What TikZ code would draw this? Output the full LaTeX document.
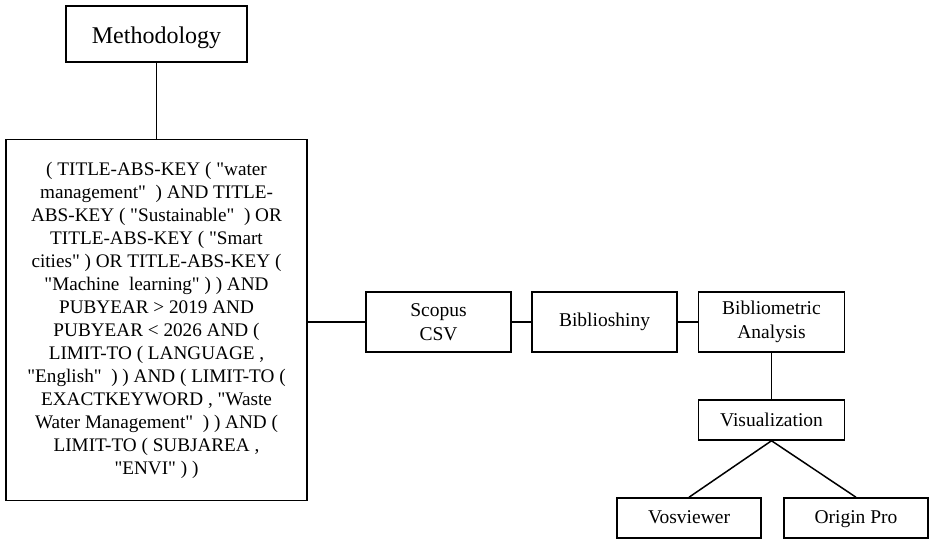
\documentclass[tikz,border=0pt]{standalone}
\usepackage{fontspec}
\setmainfont{Liberation Serif}[Ligatures=TeXOff]
\begin{document}
\begin{tikzpicture}[x=1pt,y=-1pt,
  box/.style={draw=black,line width=1.5pt,fill=white,align=center,inner sep=0pt,font=\fontsize{19.5}{24.5}\selectfont},
  link/.style={draw=black,line width=1.5pt}]
\useasboundingbox (0,0) rectangle (933,540);
\node[box,minimum width=181pt,minimum height=56pt,text height=22pt,text depth=2pt,font=\fontsize{24}{28}\selectfont] (meth) at (156.5,34) {Methodology};
\node[box,minimum width=301pt,minimum height=361pt,font=\fontsize{19.2}{23}\selectfont] (query) at (156.5,320) {( TITLE-ABS-KEY ( "water\\
management"\ \ ) AND TITLE-\\
ABS-KEY ( "Sustainable"\ \ ) OR\\
TITLE-ABS-KEY ( "Smart\\
cities" ) OR TITLE-ABS-KEY (\\
"Machine\ \ learning" ) ) AND\\
PUBYEAR > 2019 AND\\
PUBYEAR < 2026 AND (\\
LIMIT-TO ( LANGUAGE ,\\
"English"\ \ ) ) AND ( LIMIT-TO (\\
EXACTKEYWORD , "Waste\\
Water Management"\ \ ) ) AND (\\
LIMIT-TO ( SUBJAREA ,\\
"ENVI" ) )};
\node[box,minimum width=145pt,minimum height=60pt] (scopus) at (438.5,322) {Scopus\\CSV};
\node[box,minimum width=145pt,minimum height=60pt] (biblio) at (604.5,322) {Biblioshiny};
\node[box,minimum width=146pt,minimum height=60pt] (analysis) at (771.5,322) {Bibliometric\\Analysis};
\node[box,minimum width=146pt,minimum height=40pt] (vis) at (771.5,420) {Visualization};
\node[box,minimum width=144pt,minimum height=40pt,text height=14pt,text depth=3pt] (vos) at (689,518) {Vosviewer};
\node[box,minimum width=144pt,minimum height=40pt,text height=14pt,text depth=3pt] (origin) at (856,518) {Origin Pro};
\draw[link] (meth.south) -- (query.north);
\draw[link] (query.east |- scopus.west) -- (scopus.west);
\draw[link] (scopus.east) -- (biblio.west);
\draw[link] (biblio.east) -- (analysis.west);
\draw[link] (analysis.south) -- (vis.north);
\draw[link] (vis.south) -- (vos.north);
\draw[link] (vis.south) -- (origin.north);
\end{tikzpicture}
\end{document}
